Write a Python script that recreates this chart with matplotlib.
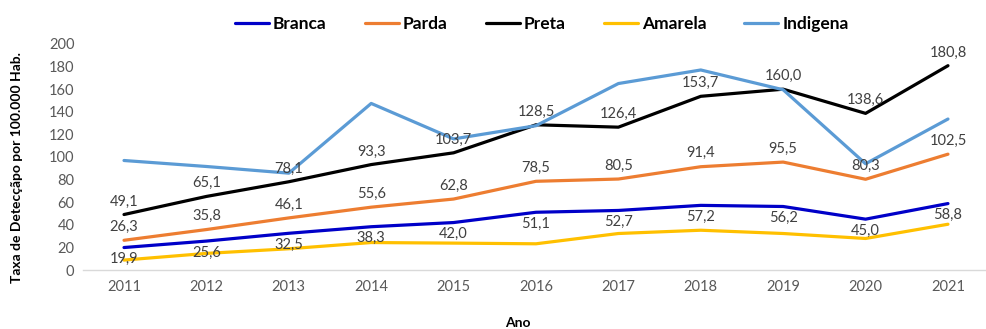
import matplotlib
matplotlib.use("Agg")
import matplotlib.pyplot as plt
import numpy as np

anos = [2011, 2012, 2013, 2014, 2015, 2016, 2017, 2018, 2019, 2020, 2021]

branca = [19.9, 25.6, 32.5, 38.3, 42.0, 51.1, 52.7, 57.2, 56.2, 45.0, 58.8]
parda = [26.3, 35.8, 46.1, 55.6, 62.8, 78.5, 80.5, 91.4, 95.5, 80.3, 102.5]
preta = [49.1, 65.1, 78.1, 93.3, 103.7, 128.5, 126.4, 153.7, 160.0, 138.6, 180.8]
amarela = [8.8, 14.7, 18.8, 24.3, 23.8, 23.2, 32.3, 35.2, 32.3, 27.9, 40.5]
indigena = [96.9, 91.6, 85.7, 147.4, 116.0, 127.7, 165.0, 177.0, 159.5, 94.0, 133.6]

y_ticks = [0, 20, 40, 60, 80, 100, 120, 140, 160, 180, 200]

series = [
    ("Branca", branca, "#0000C8"),
    ("Parda", parda, "#ED7D31"),
    ("Preta", preta, "#000000"),
    ("Amarela", amarela, "#FFC000"),
    ("Indigena", indigena, "#5B9BD5"),
]

plt.rcParams["font.family"] = ["Lato", "DejaVu Sans"]

fig = plt.figure(figsize=(9.87, 3.29), dpi=100)
ax = fig.add_axes([0.0839, 0.1793, 0.9183, 0.687])

x = np.arange(len(anos))
for nome, vals, cor in series:
    ax.plot(x, vals, color=cor, linewidth=2.3, label=nome, solid_capstyle="round")

# rótulos: Parda e Preta acima da linha, Branca abaixo
def rotular(vals, dy):
    for xi, v in zip(x, vals):
        ax.annotate(f"{v:.1f}".replace(".", ","), (xi, v), xytext=(0, dy),
                    textcoords="offset points", ha="center", va="center",
                    fontsize=10.5, color="#404040", zorder=5)

rotular(branca, -8.3)
rotular(parda, 9.6)
rotular(preta, 9.4)

ax.set_xlim(-0.5, len(anos) - 0.5)
ax.set_ylim(0, 200)
ax.set_xticks(x)
ax.set_xticklabels([str(a) for a in anos])
ax.set_yticks(y_ticks)
ax.tick_params(axis="both", length=0, labelsize=10.5, labelcolor="#595959")
ax.tick_params(axis="x", pad=7)
ax.tick_params(axis="y", pad=6)

for s in ["top", "right", "left"]:
    ax.spines[s].set_visible(False)
ax.spines["bottom"].set_color("#D9D9D9")
ax.spines["bottom"].set_linewidth(1.0)

fig.text(0.017, 0.49, "Taxa de Detecçãpo por 100.000 Hab.", rotation=90,
         ha="center", va="center", fontsize=10, fontweight="bold", color="black")
fig.text(0.525, 0.018, "Ano", ha="center", va="center", fontsize=10,
         fontweight="bold", color="black")

leg = fig.legend(loc="center", bbox_to_anchor=(0.549, 0.927), ncol=5,
                 frameon=False, handlelength=1.95, handletextpad=0.23,
                 columnspacing=2.2, prop={"size": 12.5, "weight": "bold"})

fig.savefig("out.png", dpi=100)
